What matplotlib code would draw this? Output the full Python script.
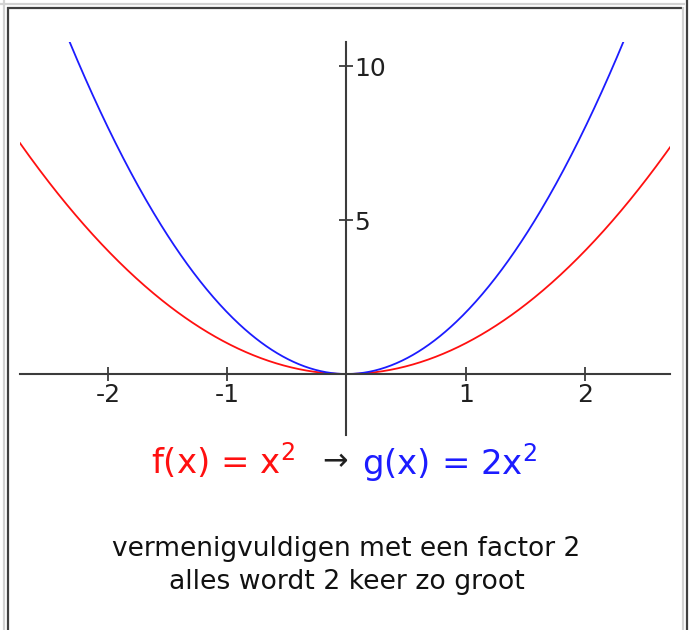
#!/usr/bin/env python3
# parabool_factor2.py

import matplotlib
matplotlib.use("Agg")
import matplotlib.pyplot as plt
import numpy as np

from matplotlib.lines import Line2D

W, H = 694, 630

# window of the coordinate system
x_min, x_max = -2.738, 2.713
y_min, y_max = -1.98, 10.78

factor = 2
x_ticks = [-2, -1, 1, 2]
y_ticks = [5, 10]

formula_f = r"f(x) = x$^{2}$"
formula_g = r"g(x) = " + str(factor) + r"x$^{2}$"
caption = ["vermenigvuldigen met een factor " + str(factor),
           "alles wordt " + str(factor) + " keer zo groot"]

AXIS_COLOR = "#3c3c3c"
RED = "#ff1010"
BLUE = "#1c1cff"


def px(x, y):
    # pixel position (from top left) -> figure fraction
    return x / W, 1 - y / H


def frame(fig):
    light, dark = "#d2d2d2", "#404040"
    segs = [
        (light, (0, 4), (685, 4)),
        (light, (4, 0), (4, H)),
        (dark, (7, 8), (682, 8)),
        (dark, (8, 7), (8, H)),
        (light, (682.5, 7), (682.5, H)),
        (dark, (687, 0), (687, H)),
    ]
    for color, a, b in segs:
        (x0, y0), (x1, y1) = px(*a), px(*b)
        fig.add_artist(Line2D([x0, x1], [y0, y1], color=color, lw=1.6,
                              transform=fig.transFigure,
                              solid_capstyle="butt"))


def plot(ax):
    x = np.linspace(x_min, x_max, 600)
    ax.plot(x, x**2, color=RED, lw=1.3)
    ax.plot(x, factor * x**2, color=BLUE, lw=1.3)

    ax.set_xlim(x_min, x_max)
    ax.set_ylim(y_min, y_max)

    for s in ("top", "left"):
        ax.spines[s].set_visible(False)
    ax.spines["bottom"].set_position(("data", 0))
    ax.spines["right"].set_position(("data", 0))
    for s in ("bottom", "right"):
        ax.spines[s].set_color(AXIS_COLOR)
        ax.spines[s].set_linewidth(1.5)

    ax.yaxis.tick_right()
    ax.set_xticks(x_ticks)
    ax.set_yticks(y_ticks)
    ax.set_xticklabels([str(t) for t in x_ticks])
    ax.set_yticklabels([str(t) for t in y_ticks])
    ax.tick_params(direction="inout", length=9.5, width=1.3,
                   color=AXIS_COLOR, labelcolor="#202020", labelsize=18)
    ax.tick_params(axis="x", pad=2)
    ax.tick_params(axis="y", pad=1)


def main():
    plt.rcParams["axes.unicode_minus"] = False
    plt.rcParams["mathtext.default"] = "regular"
    plt.rcParams["font.family"] = ["DejaVu Sans"]

    fig = plt.figure(figsize=(W / 100, H / 100), dpi=100)
    fig.patch.set_facecolor("white")

    x0, y0 = px(20, 435)
    x1, y1 = px(670, 42)
    ax = fig.add_axes([x0, y0, x1 - x0, y1 - y0])
    ax.patch.set_alpha(0)
    plot(ax)

    fig.text(*px(151, 474), formula_f, color=RED, fontsize=24.5,
             fontweight="medium", ha="left", va="baseline")
    fig.text(*px(335, 470), "\u2192", color="#202020", fontsize=22,
             ha="center", va="baseline")
    fig.text(*px(362, 474), formula_g, color=BLUE, fontsize=24.5,
             fontweight="medium", ha="left", va="baseline")

    fig.text(*px(346, 549), caption[0], fontsize=19, color="#111111",
             ha="center", va="center")
    fig.text(*px(347, 582), caption[1], fontsize=19.2, color="#111111",
             ha="center", va="center")

    frame(fig)
    fig.savefig("out.png", dpi=100)


if __name__ == "__main__":
    main()
